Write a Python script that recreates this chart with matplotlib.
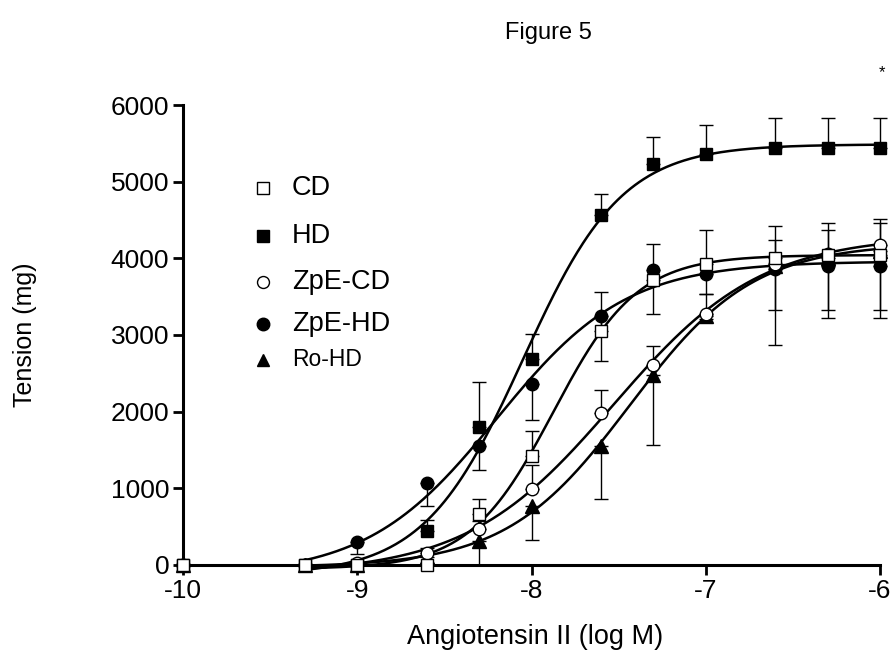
import numpy as np
import matplotlib
matplotlib.use("Agg")
import matplotlib.pyplot as plt
from matplotlib.lines import Line2D

plt.rcParams['font.family'] = ['Liberation Sans', 'DejaVu Sans']

# ---------------- data ----------------
log_dose = [-10.0, -9.3, -9.0, -8.6, -8.3, -8.0, -7.6, -7.3, -7.0, -6.6, -6.3, -6.0]

cd         = [0, 0, 0, 0, 670, 1425, 3058, 3718, 3925, 4008, 4043, 4043]
cd_err     = [0, 0, 0, 0, 185, 328, 505, 467, 441, 227, 333, 420]      # upward
hd         = [0, 0, 0, 445, 1805, 2690, 4570, 5233, 5363, 5434, 5434, 5434]
hd_err     = [0, 0, 0, 138, 584, 325, 272, 350, 373, 402, 402, 402]    # upward
zpe_cd     = [0, 0, 20, 155, 475, 993, 1987, 2613, 3278, 3925, 4050, 4180]
zpe_cd_err = [0, 0, 0, 60, 100, 316, 293, 242, 256, 495, 410, 330]     # upward
zpe_hd     = [0, 0, 294, 1063, 1546, 2367, 3252, 3845, 3800, 3860, 3900, 3900]
zpe_hd_err = [0, 0, 152, 294, 302, 475, 593, 567, 266, 530, 570, 570]  # downward
ro_hd      = [0, 0, 0, 100, 310, 768, 1546, 2475, 3250, 3900, 4000, 4100]
ro_hd_err  = [0, 0, 0, 80, 310, 444, 690, 916, 40, 1030, 780, 880]     # downward

labels = ["CD", "HD", "ZpE-CD", "ZpE-HD", "Ro-HD"]
x_ticks = [-10, -9, -8, -7, -6]
y_ticks = [0, 1000, 2000, 3000, 4000, 5000, 6000]


def logistic(p, x):
    b, t, e, h = p
    return b + (t - b) / (1.0 + 10.0 ** ((e - x) * h))


def fit4pl(x, y):
    x = np.asarray(x, float)
    y = np.asarray(y, float)
    half = (y.min() + y.max()) / 2
    e0 = x[np.argmin(np.abs(y - half))]
    p = np.array([0.0, y.max(), e0, 1.0])
    lam = 1e-2

    def res(q):
        return logistic(q, x) - y

    r = res(p)
    cost = r @ r
    for _ in range(600):
        J = np.empty((len(x), 4))
        f0 = logistic(p, x)
        for k in range(4):
            dp = np.zeros(4)
            d = 1e-6 * max(1.0, abs(p[k]))
            dp[k] = d
            J[:, k] = (logistic(p + dp, x) - f0) / d
        A = J.T @ J
        g = J.T @ r
        try:
            step = np.linalg.solve(A + lam * np.diag(np.diag(A) + 1e-12), -g)
        except np.linalg.LinAlgError:
            lam *= 10
            continue
        pn = p + step
        rn = res(pn)
        cn = rn @ rn
        if np.isfinite(cn) and cn < cost:
            p, r, cost = pn, rn, cn
            lam *= 0.3
        else:
            lam *= 10
    return p


fig = plt.figure(figsize=(8.93, 6.53), dpi=100)
ax = fig.add_axes([0.205, 0.1348, 0.7804, 0.7044])

x = np.array(log_dose)
series = [
    (cd, cd_err, 's', 'white', 'up', 9),
    (hd, hd_err, 's', 'black', 'up', 5),
    (zpe_cd, zpe_cd_err, 'o', 'white', 'up', 8),
    (zpe_hd, zpe_hd_err, 'o', 'black', 'down', 7),
    (ro_hd, ro_hd_err, '^', 'black', 'down', 6),
]

xc = np.linspace(-9.3, -6.0, 400)
for vals, err, mk, fc, direction, z in series:
    v = np.array(vals, float)
    e = np.array(err, float)
    mask = x > -10
    p = fit4pl(x[mask], v[mask])
    ax.plot(xc, logistic(p, xc), color='black', lw=1.8, zorder=2,
            solid_capstyle='round', clip_on=False)
    if direction == 'up':
        yerr = [np.zeros_like(e), e]
    else:
        yerr = [e, np.zeros_like(e)]
    sel = e > 0
    ax.errorbar(x[sel], v[sel], yerr=[yerr[0][sel], yerr[1][sel]], fmt='none',
                ecolor='black', elinewidth=1.0, capsize=4.7, capthick=1.0,
                zorder=3, clip_on=False)
    ms = 8.6 if mk == 's' else (9.0 if mk == 'o' else 9.5)
    ax.plot(x, v, linestyle='none', marker=mk, markersize=ms,
            markerfacecolor=fc, markeredgecolor='black', markeredgewidth=1.0,
            zorder=z, clip_on=False)

ax.set_xlim(-10, -6)
ax.set_ylim(0, 6000)
ax.set_xticks(x_ticks)
ax.set_xticklabels([str(t) for t in x_ticks])
ax.set_yticks(y_ticks)
ax.set_yticklabels([str(t) for t in y_ticks])
for s in ['top', 'right']:
    ax.spines[s].set_visible(False)
for s in ['left', 'bottom']:
    ax.spines[s].set_linewidth(2.2)
ax.tick_params(axis='both', direction='out', length=7, width=2.0,
               labelsize=19, pad=3)

fig.text(548 / 893, 0.949, "Figure 5", ha='center', va='center', fontsize=17)
fig.text(0.599, 0.0245, "Angiotensin II (log M)", ha='center', va='center', fontsize=19.5)
fig.text(0.028, 0.487, "Tension (mg)", ha='center', va='center', rotation=90, fontsize=18)
fig.text(882 / 893, 1 - 73 / 653, "*", ha='center', va='center', fontsize=12)

# legend
leg_y = [188, 236, 282, 324, 360]
leg_style = [('s', 'white', 8.6), ('s', 'black', 8.6), ('o', 'white', 8.6),
             ('o', 'black', 9.0), ('^', 'black', 9.0)]
leg_fs = [19.5, 19.5, 19.5, 19.5, 16.5]
for lab, yy, (mk, fc, ms), fs in zip(labels, leg_y, leg_style, leg_fs):
    yf = 1 - yy / 653
    fig.add_artist(Line2D([263 / 893], [yf], marker=mk, markersize=ms,
                          markerfacecolor=fc, markeredgecolor='black',
                          markeredgewidth=1.0, linestyle='none',
                          transform=fig.transFigure))
    fig.text(292 / 893, yf, lab, ha='left', va='center', fontsize=fs)

fig.savefig("out.png", dpi=100)
